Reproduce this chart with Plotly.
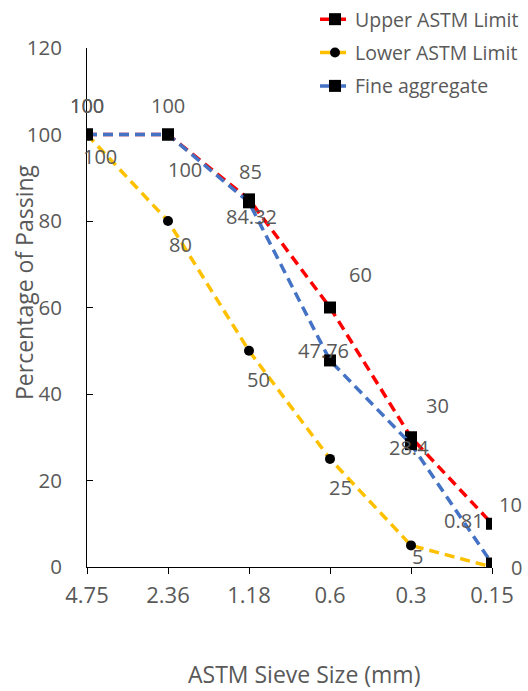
import plotly.graph_objects as go

sieve = ["4.75", "2.36", "1.18", "0.6", "0.3", "0.15"]
upper = [100, 100, 85, 60, 30, 10]
lower = [100, 80, 50, 25, 5, 0]
fine = [100, 100, 84.32, 47.76, 28.4, 0.81]
fine_text = ["100", "100", "84.32", "47.76", "28.4", "0.81"]

# label offsets (px) for each series' data labels
upper_off = [(0, 29), (0, 29), (1, 28), (30, 33), (26, 32), (18, 19)]
lower_off = [(13, -22), (12, -23), (9, -29), (10, -29), (6, -11), (24, 0)]
fine_off = [(0, 29), (17, -35), (2, -14), (-7, 10), (-2, -3), (-28, 43)]

FONT = "Open Sans"
GRAY = "#595959"
W, H = 528, 691
L, R, B = 87, 36, 124
PLOT_H = H - B          # paper height (t=0)
TOP_PX = 48             # top of y axis

fig = go.Figure()
fig.add_trace(go.Scatter(
    x=sieve, y=upper, name="Upper ASTM Limit", mode="lines+markers", legendgroup="a",
    line=dict(color="#FF0000", width=3.5, dash="10px,6px"),
    marker=dict(symbol="square", size=12, color="black")))
fig.add_trace(go.Scatter(
    x=sieve, y=lower, name="Lower ASTM Limit", mode="lines+markers", legendgroup="b",
    line=dict(color="#FFC000", width=3.5, dash="10px,6px"),
    marker=dict(symbol="circle", size=10, color="black")))
fig.add_trace(go.Scatter(
    x=sieve, y=fine, name="Fine aggregate", mode="lines+markers", legendgroup="c",
    line=dict(color="#4472C4", width=3.5, dash="10px,6px"),
    marker=dict(symbol="square", size=12, color="black")))

anns = []
for vals, texts, offs in [(upper, [str(v) for v in upper], upper_off),
                          (lower, [str(v) for v in lower], lower_off),
                          (fine, fine_text, fine_off)]:
    for i, (yv, t, (dx, dy)) in enumerate(zip(vals, texts, offs)):
        anns.append(dict(x=i, y=yv, xref="x", yref="y", text=t, showarrow=False,
                         xshift=dx, yshift=dy,
                         font=dict(family=FONT, size=20, color=GRAY)))

pw = W - L - R
anns.append(dict(text="ASTM Sieve Size (mm)", xref="paper", yref="paper",
                 x=(304 - L) / pw, y=-(674 - PLOT_H) / PLOT_H, showarrow=False,
                 xanchor="center", yanchor="middle",
                 font=dict(family=FONT, size=23, color=GRAY)))
anns.append(dict(text="Percentage of Passing", xref="paper", yref="paper",
                 x=(24 - L) / pw, y=(PLOT_H - 282) / PLOT_H, showarrow=False,
                 xanchor="center", yanchor="middle", textangle=-90,
                 font=dict(family=FONT, size=23, color=GRAY)))

fig.update_layout(
    width=W, height=H,
    margin=dict(l=L, r=R, t=0, b=B, autoexpand=False),
    paper_bgcolor="white", plot_bgcolor="white",
    font=dict(family=FONT, size=19, color=GRAY),
    showlegend=True,
    legend=dict(x=(315 - L) / pw, y=1.0, xanchor="left", yanchor="top",
                bgcolor="rgba(0,0,0,0)", font=dict(family=FONT, size=19.5, color=GRAY),
                tracegroupgap=5, traceorder="grouped"),
    annotations=anns,
    xaxis=dict(type="category", range=[0, 5], showline=True, linecolor="black", linewidth=1,
               automargin=False,
               ticks="outside", ticklen=6, tickcolor="black", showgrid=False, zeroline=False,
               ticklabelstandoff=3,
               tickfont=dict(family=FONT, size=22, color=GRAY)),
    yaxis=dict(range=[0, 120], dtick=20, showline=True, linecolor="black", linewidth=1,
               automargin=False,
               domain=[0, (PLOT_H - TOP_PX) / PLOT_H],
               ticks="inside", ticklen=6, tickcolor="black", showgrid=False, zeroline=False,
               ticklabelstandoff=20,
               tickfont=dict(family=FONT, size=20.5, color=GRAY)),
)
fig.write_html("out.html")
